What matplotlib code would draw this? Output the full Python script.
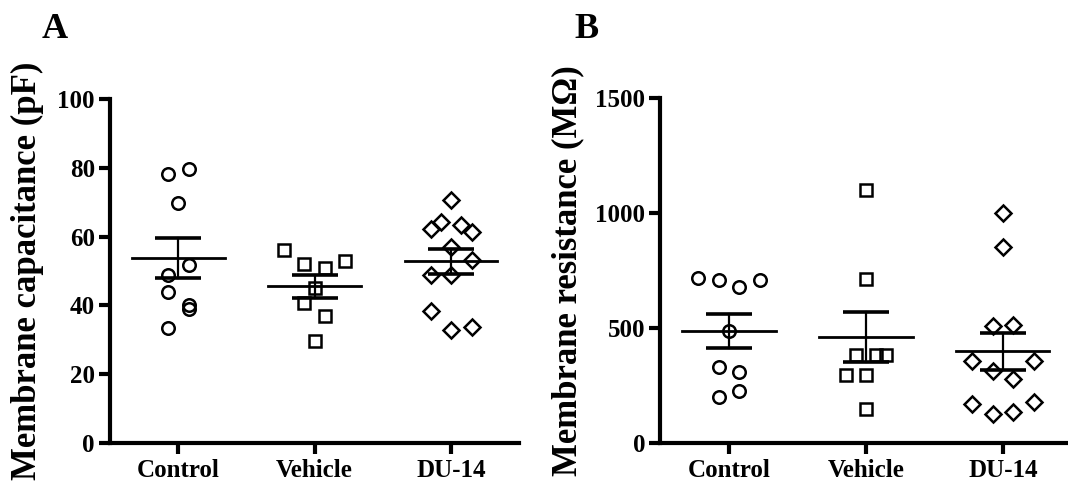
import numpy as np
import matplotlib
matplotlib.use('Agg')
import matplotlib.pyplot as plt

plt.rcParams['font.family'] = ['Liberation Serif', 'DejaVu Serif']
plt.rcParams['font.weight'] = 'bold'

groups = ['Control', 'Vehicle', 'DU-14']

# Panel A: membrane capacitance (pF)
cap_control = [78.4, 79.6, 69.7, 51.7, 48.8, 43.8, 40.1, 39.1, 33.3]
cap_vehicle = [56.1, 52.0, 50.8, 53.0, 45.0, 40.8, 36.9, 29.6]
cap_du14 = [62.4, 64.2, 70.7, 63.4, 61.5, 57.1, 53.2, 48.8, 48.8, 38.4, 32.8, 33.8]

# Panel B: membrane resistance (MOhm)
res_control = [715, 708, 679, 708, 488, 328, 307, 227, 198]
res_vehicle = [1099, 711, 380, 380, 380, 293, 293, 146]
res_du14 = [999, 853, 507, 514, 354, 354, 313, 278, 169, 125, 133, 176]

# horizontal scatter of the points (as laid out in the original)
cap_jitter = [
    [-0.075, 0.075, 0, 0.075, -0.075, -0.075, 0.075, 0.075, -0.075],
    [-0.225, -0.075, 0.075, 0.225, 0, -0.075, 0.075, 0],
    [-0.15, -0.075, 0, 0.075, 0.15, 0, 0.15, -0.15, 0, -0.15, 0, 0.15],
]
res_jitter = [
    [-0.225, -0.075, 0.075, 0.225, 0, -0.075, 0.075, 0.075, -0.075],
    [0, 0, -0.075, 0.075, 0.145, -0.145, 0, 0],
    [0, 0, -0.075, 0.075, -0.225, 0.225, -0.075, 0.075, -0.225, -0.075, 0.075, 0.225],
]

markers = ['o', 's', 'D']
msizes = [9, 9, 8]


def dot_plot(ax, data, jitter, yticks):
    for i, (vals, jit) in enumerate(zip(data, jitter)):
        vals = np.array(vals, dtype=float)
        x = i + np.array(jit)
        ax.plot(x, vals, linestyle='none', marker=markers[i], ms=msizes[i],
                mfc='none', mec='black', mew=1.8, zorder=3)
        # mean +/- SEM
        m = vals.mean()
        sem = vals.std(ddof=1) / np.sqrt(len(vals))
        ax.plot([i - 0.34, i + 0.34], [m, m], color='black', lw=2.0, zorder=4)
        ax.plot([i, i], [m - sem, m + sem], color='black', lw=1.6, zorder=4)
        for y in (m - sem, m + sem):
            ax.plot([i - 0.17, i + 0.17], [y, y], color='black', lw=2.6,
                    solid_capstyle='butt', zorder=4)
    ax.set_xlim(-0.5, 2.5)
    ax.set_ylim(0, yticks[-1])
    ax.set_yticks(yticks)
    ax.set_xticks(range(len(groups)))
    ax.set_xticklabels(groups)
    for s in ['top', 'right']:
        ax.spines[s].set_visible(False)
    for s in ['left', 'bottom']:
        ax.spines[s].set_linewidth(3)
    ax.tick_params(axis='both', width=3, length=8, labelsize=18, pad=3)
    ax.tick_params(axis='x', pad=4)
    for lab in ax.get_xticklabels() + ax.get_yticklabels():
        lab.set_fontweight('bold')


fig = plt.figure(figsize=(10.68, 4.86), dpi=100)

axA = fig.add_axes([0.1031, 0.0891, 0.3831, 0.7062])
dot_plot(axA, [cap_control, cap_vehicle, cap_du14], cap_jitter, [0, 20, 40, 60, 80, 100])

axB = fig.add_axes([0.6184, 0.0891, 0.3848, 0.7090])
dot_plot(axB, [res_control, res_vehicle, res_du14], res_jitter, [0, 500, 1000, 1500])

fig.text(0.026, 0.443, 'Membrane capacitance (pF)', rotation=90, ha='center',
         va='center', fontsize=25, fontweight='bold')
fig.text(0.532, 0.443, 'Membrane resistance (M\u03a9)', rotation=90, ha='center',
         va='center', fontsize=25, fontweight='bold')

fig.text(0.051, 0.94, 'A', ha='center', va='center', fontsize=26, fontweight='bold')
fig.text(0.5496, 0.94, 'B', ha='center', va='center', fontsize=26, fontweight='bold')

fig.savefig('out.png', dpi=100)
